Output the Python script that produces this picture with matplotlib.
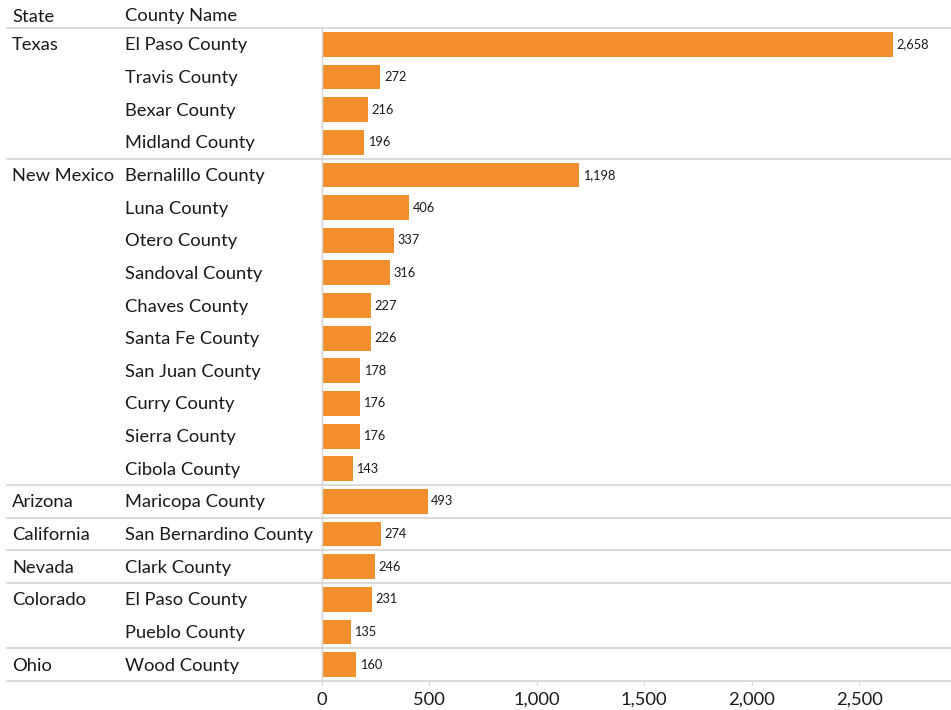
import matplotlib
matplotlib.use("Agg")
import matplotlib.pyplot as plt
import matplotlib.transforms as mtransforms
from matplotlib.ticker import FuncFormatter

plt.rcParams['font.family'] = ['Lato', 'DejaVu Sans']

states = ["Texas", "New Mexico", "Arizona", "California", "Nevada", "Colorado", "Ohio"]
counties = [
    ["El Paso County", "Travis County", "Bexar County", "Midland County"],
    ["Bernalillo County", "Luna County", "Otero County", "Sandoval County",
     "Chaves County", "Santa Fe County", "San Juan County", "Curry County",
     "Sierra County", "Cibola County"],
    ["Maricopa County"],
    ["San Bernardino County"],
    ["Clark County"],
    ["El Paso County", "Pueblo County"],
    ["Wood County"],
]
values = [
    [2658, 272, 216, 196],
    [1198, 406, 337, 316, 227, 226, 178, 176, 176, 143],
    [493],
    [274],
    [246],
    [231, 135],
    [160],
]
x_ticks = [0, 500, 1000, 1500, 2000, 2500]

BAR = "#F28E2B"
GRID = "#D4D4D4"
TXT = "#1A1A1A"
FS = 13.2

W, H = 951, 710
fig = plt.figure(figsize=(W / 100, H / 100), dpi=100)
ax = fig.add_axes([322 / W, 1 - 681 / H, 1 - 322 / W, (681 - 28) / H])

names = [c for grp in counties for c in grp]
vals = [v for grp in values for v in grp]
n = len(names)
ypos = list(range(n))

ax.barh(ypos, vals, height=0.76, color=BAR, zorder=2)
for y, v in zip(ypos, vals):
    ax.annotate(f"{v:,}", (v, y), xytext=(2.5, 0), textcoords="offset points",
                va="center", ha="left", fontsize=9.2, color=TXT)

ax.set_ylim(n - 0.5, -0.5)
ax.set_xlim(0, 2928)
ax.set_xticks(x_ticks)
ax.xaxis.set_major_formatter(FuncFormatter(lambda v, p: f"{int(v):,}"))
ax.tick_params(axis="x", length=3, color=GRID, labelsize=FS, labelcolor=TXT, pad=5)
ax.set_yticks([])
for s in ["top", "right", "bottom"]:
    ax.spines[s].set_visible(False)
ax.spines["left"].set_color(GRID)
ax.spines["left"].set_linewidth(1)

# row labels and state separators spanning the whole table
blend = mtransforms.blended_transform_factory(fig.transFigure, ax.transData)
row = 0
boundaries = [-0.5]
for st, grp in zip(states, counties):
    fig.text(12 / W, row + 0.03, st, transform=blend, fontsize=FS, color=TXT,
             va="center", ha="left")
    for i, c in enumerate(grp):
        fig.text(125 / W, row + i + 0.03, c, transform=blend, fontsize=FS, color=TXT,
                 va="center", ha="left")
    row += len(grp)
    boundaries.append(row - 0.5)

for b in boundaries:
    line = plt.Line2D([7 / W, 1.0], [b, b], transform=blend, color=GRID, lw=1.2,
                      zorder=1)
    fig.add_artist(line)

# column headers
fig.text(12 / W, 1 - 16.5 / H, "State", fontsize=FS, color=TXT, va="center")
fig.text(125 / W, 1 - 16.5 / H, "County Name", fontsize=FS, color=TXT, va="center")

fig.savefig("out.png", dpi=100)
